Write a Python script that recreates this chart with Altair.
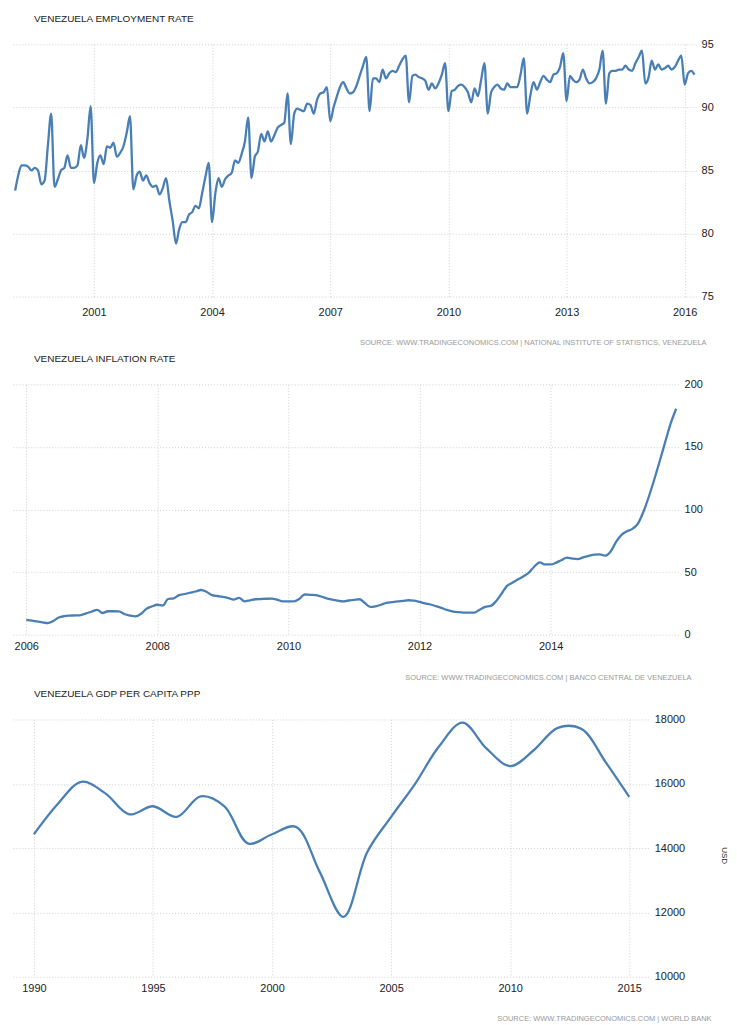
import altair as alt
import pandas as pd

FONT = "Liberation Sans"
LINE = "#4a7fb5"
GRID = "#cfcfcf"
LABEL = "#222222"
SRC = "#9a9a9a"

# ---------------- Employment rate (monthly, Jan 1999 - Apr 2016) ----------------
emp_1999 = [83.4, 84.7, 85.4, 85.4, 85.3, 85.0, 85.2, 85.0, 83.9, 84.2, 87.0, 89.5]
emp_2000 = [83.7, 84.3, 85.0, 85.2, 86.2, 85.2, 85.2, 85.4, 87.0, 86.0, 87.5, 90.1]
emp_2001 = [84.0, 85.6, 86.2, 85.5, 86.9, 86.8, 87.2, 86.1, 86.4, 86.9, 88.0, 89.3]
emp_2002 = [83.5, 84.6, 84.9, 84.2, 84.6, 84.0, 83.7, 83.8, 83.1, 83.6, 84.4, 82.6]
emp_2003 = [81.0, 79.2, 80.3, 80.9, 80.9, 81.5, 81.7, 82.2, 82.0, 83.2, 84.5, 85.6]
emp_2004 = [80.9, 83.2, 84.4, 83.7, 84.3, 84.6, 84.8, 85.8, 85.6, 86.3, 87.3, 89.2]
emp_2005 = [84.4, 86.1, 86.5, 87.9, 87.3, 88.1, 87.3, 87.8, 88.4, 88.6, 88.8, 91.1]
emp_2006 = [87.1, 89.5, 89.9, 89.8, 89.7, 90.3, 90.2, 89.5, 90.6, 91.1, 91.2, 91.6]
emp_2007 = [88.9, 90.0, 90.8, 91.6, 92.0, 91.5, 91.1, 91.2, 91.7, 92.5, 93.3, 94.0]
emp_2008 = [89.7, 92.3, 92.3, 92.0, 93.0, 92.3, 92.7, 92.9, 92.8, 93.3, 93.8, 94.1]
emp_2009 = [90.4, 92.5, 92.6, 92.4, 92.3, 92.1, 91.4, 91.9, 91.5, 91.9, 92.6, 93.5]
emp_2010 = [89.7, 91.3, 91.4, 91.7, 91.8, 91.6, 91.2, 90.4, 91.5, 90.9, 92.2, 93.5]
emp_2011 = [89.5, 91.2, 91.6, 91.8, 91.5, 91.4, 91.9, 91.6, 91.6, 91.6, 92.6, 93.9]
emp_2012 = [89.5, 91.0, 92.0, 91.4, 92.0, 92.5, 92.2, 92.0, 92.6, 92.7, 93.2, 94.3]
emp_2013 = [90.5, 92.5, 92.2, 92.0, 92.2, 93.0, 92.3, 91.9, 92.0, 92.3, 93.0, 94.5]
emp_2014 = [90.3, 92.7, 92.9, 92.9, 93.0, 93.0, 93.3, 93.0, 92.9, 93.5, 94.0, 94.5]
emp_2015 = [91.9, 92.4, 93.7, 93.0, 93.4, 93.0, 93.1, 93.3, 93.0, 93.2, 93.7, 94.1]
emp_2016 = [91.8, 92.7, 92.9, 92.6]
emp_values = (emp_1999 + emp_2000 + emp_2001 + emp_2002 + emp_2003 + emp_2004 +
              emp_2005 + emp_2006 + emp_2007 + emp_2008 + emp_2009 + emp_2010 +
              emp_2011 + emp_2012 + emp_2013 + emp_2014 + emp_2015 + emp_2016)
emp_ticks_years = [2001, 2004, 2007, 2010, 2013, 2016]
emp_y_ticks = [75, 80, 85, 90, 95]

# ---------------- Inflation rate (monthly, Jan 2006 - Dec 2015) ----------------
inf_2006 = [11.8, 11.2, 10.6, 9.8, 9.2, 11.0, 13.7, 14.8, 15.2, 15.4, 15.7, 17.0]
inf_2007 = [18.5, 19.8, 17.3, 18.7, 18.7, 18.6, 16.5, 15.3, 14.6, 16.5, 20.6, 22.5]
inf_2008 = [23.9, 23.3, 28.5, 29.0, 31.6, 32.5, 33.5, 34.5, 35.7, 34.3, 31.6, 30.9]
inf_2009 = [30.2, 29.2, 28.0, 29.4, 26.6, 27.5, 28.3, 28.5, 28.7, 28.8, 27.8, 26.6]
inf_2010 = [26.6, 26.6, 28.5, 32.1, 31.8, 31.6, 30.5, 29.0, 28.0, 27.2, 26.6, 27.3]
inf_2011 = [27.8, 28.3, 25.5, 22.2, 22.7, 23.9, 25.4, 26.0, 26.6, 27.0, 27.5, 27.2]
inf_2012 = [26.2, 25.0, 24.1, 22.8, 21.4, 19.8, 18.7, 18.0, 17.6, 17.6, 17.6, 20.0]
inf_2013 = [22.2, 23.0, 26.5, 32.5, 38.8, 41.5, 44.1, 46.5, 49.5, 54.3, 57.8, 56.1]
inf_2014 = [56.1, 57.6, 59.5, 61.5, 60.8, 60.4, 61.8, 62.9, 64.0, 64.2, 63.1, 66.5]
inf_2015 = [74.3, 80.0, 82.6, 84.5, 88.5, 98.0, 110.0, 124.0, 139.0, 154.0, 169.0, 180.5]
inf_values = (inf_2006 + inf_2007 + inf_2008 + inf_2009 + inf_2010 +
              inf_2011 + inf_2012 + inf_2013 + inf_2014 + inf_2015)
inf_ticks_years = [2006, 2008, 2010, 2012, 2014]
inf_y_ticks = [0, 50, 100, 150, 200]

# ---------------- GDP per capita PPP (annual, 1990 - 2015) ----------------
gdp_years = list(range(1990, 2016))
gdp_values = [14430, 15370, 16060, 15700, 15050, 15300, 14970, 15610, 15300, 14140,
              14430, 14660, 13260, 11860, 13880, 14970, 15990, 17150, 17900, 17100,
              16550, 17050, 17740, 17700, 16680, 15590]
gdp_x_ticks = [1990, 1995, 2000, 2005, 2010, 2015]
gdp_y_ticks = [10000, 12000, 14000, 16000, 18000]

emp_df = pd.DataFrame({
    "date": pd.date_range("1999-01-01", periods=len(emp_values), freq="MS").strftime("%Y-%m-%dT00:00:00"),
    "value": emp_values,
})
inf_df = pd.DataFrame({
    "date": pd.date_range("2006-01-01", periods=len(inf_values), freq="MS").strftime("%Y-%m-%dT00:00:00"),
    "value": inf_values,
})
gdp_df = pd.DataFrame({"year": gdp_years, "value": gdp_values})


def title_params(text):
    return alt.TitleParams(text=text, anchor="start", frame="group", dx=21, offset=14,
                           font=FONT, fontSize=10, fontWeight="normal", color=LABEL)


def x_axis(values, fmt, label_pad, source, src_x, src_y):
    return alt.Axis(values=values, format=fmt, grid=True, gridColor=GRID, gridDash=[1, 2],
                    domain=False, ticks=False, tickSize=0, labelPadding=label_pad,
                    labelFont=FONT, labelFontSize=11, labelColor=LABEL,
                    labelFlush=False, labelOverlap=False,
                    title=source, titleFont=FONT, titleFontSize=7.5, titleFontWeight="normal",
                    titleColor=SRC, titleAlign="right", titleBaseline="middle",
                    titleX=src_x, titleY=src_y)


def y_axis(values, label_pad, **kw):
    return alt.Axis(values=values, orient="right", grid=True, gridColor=GRID, gridDash=[1, 2],
                    domain=False, ticks=False, tickSize=0, labelPadding=label_pad,
                    labelFont=FONT, labelFontSize=11, labelColor=LABEL, format="d", **kw)


W1, H1 = 685, 253
emp_chart = alt.Chart(emp_df).mark_line(
    color=LINE, strokeWidth=2.3, interpolate="monotone"
).encode(
    x=alt.X("date:T",
            scale=alt.Scale(domain=[alt.DateTime(year=1998, month=12, date=12),
                                    alt.DateTime(year=2016, month=4, date=16)]),
            axis=x_axis([alt.DateTime(year=y, month=1, date=1) for y in emp_ticks_years], "%Y", 10,
                        "SOURCE: WWW.TRADINGECONOMICS.COM  |  NATIONAL INSTITUTE OF STATISTICS, VENEZUELA",
                        W1 + 10, 46)),
    y=alt.Y("value:Q", scale=alt.Scale(domain=[75, 95], nice=False, zero=False),
            axis=y_axis(emp_y_ticks, 5, title=None)),
).properties(width=W1, height=H1, title=title_params("VENEZUELA EMPLOYMENT RATE"))

W2, H2 = 667, 251
inf_chart = alt.Chart(inf_df).mark_line(
    color=LINE, strokeWidth=2.3, interpolate="monotone"
).encode(
    x=alt.X("date:T",
            scale=alt.Scale(domain=[alt.DateTime(year=2005, month=10, date=19),
                                    alt.DateTime(year=2015, month=12, date=12)]),
            axis=x_axis([alt.DateTime(year=y, month=1, date=1) for y in inf_ticks_years], "%Y", 6,
                        "SOURCE: WWW.TRADINGECONOMICS.COM  |  BANCO CENTRAL DE VENEZUELA",
                        W2 + 13, 43)),
    y=alt.Y("value:Q", scale=alt.Scale(domain=[0, 200], nice=False),
            axis=y_axis(inf_y_ticks, 6, title=None)),
).properties(width=W2, height=H2, title=title_params("VENEZUELA INFLATION RATE"))

W3, H3 = 637, 258
gdp_chart = alt.Chart(gdp_df).mark_line(
    color=LINE, strokeWidth=2.3, interpolate="catmull-rom"
).encode(
    x=alt.X("year:Q", scale=alt.Scale(domain=[1989.121, 2015.796], nice=False, zero=False),
            axis=x_axis(gdp_x_ticks, "d", 6,
                        "SOURCE: WWW.TRADINGECONOMICS.COM  |  WORLD BANK",
                        W3 + 63, 42)),
    y=alt.Y("value:Q", scale=alt.Scale(domain=[10000, 18000], nice=False, zero=False),
            axis=y_axis(gdp_y_ticks, 6, title="USD", titleFont=FONT, titleFontSize=8,
                        titleFontWeight="normal", titleColor=LABEL, titleAngle=90,
                        titleX=75, titleY=136, titleAlign="center", titleBaseline="middle")),
).properties(width=W3, height=H3, title=title_params("VENEZUELA GDP PER CAPITA PPP"))

chart = alt.vconcat(emp_chart, inf_chart, gdp_chart, spacing=8).properties(
    padding={"left": 2, "top": 5, "right": 2, "bottom": 0},
    background="white",
).configure_view(stroke=None)

chart.save("out.html", embed_options={"renderer": "svg", "actions": False})
